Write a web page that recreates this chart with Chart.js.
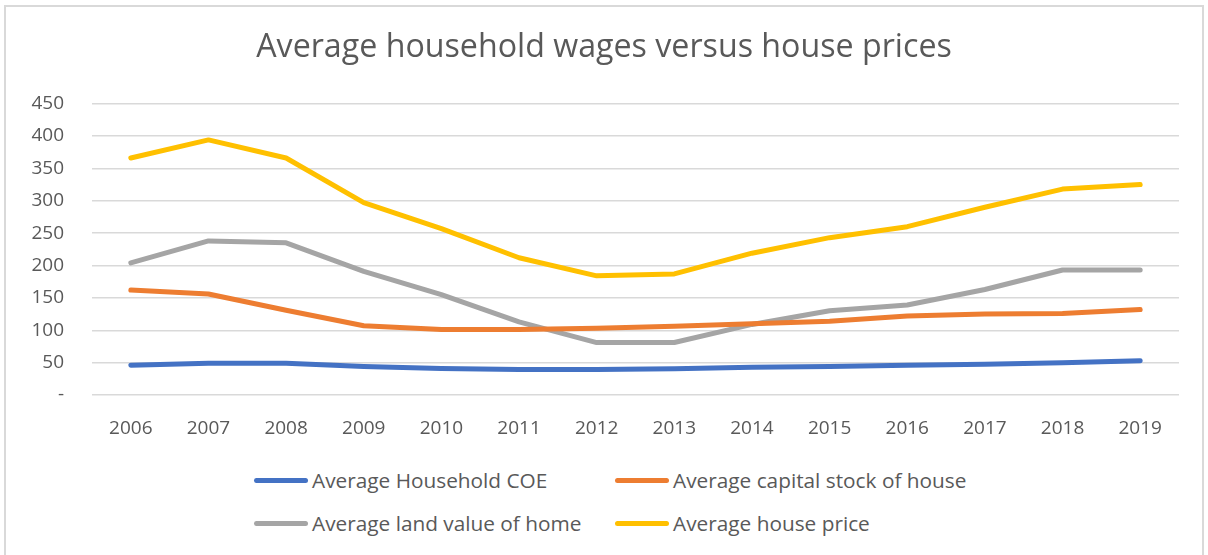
<!DOCTYPE html>
<html>
<head>
<meta charset="utf-8">
<script src="https://cdn.jsdelivr.net/npm/chart.js@4"></script>
<style>
  html, body { margin: 0; padding: 0; background: #fff; }
  body { width: 1208px; height: 555px; position: relative; overflow: hidden; font-family: "Open Sans", sans-serif; }
  #frame { position: absolute; left: 4px; top: 5px; width: 1200px; height: 600px; border: 2px solid #d9d9d9; box-sizing: border-box; }
  #wrap { position: absolute; left: 0; top: 0; width: 1208px; height: 450px; }
  #legend { position: absolute; left: 0; top: 466px; width: 1208px; color: #595959; font-size: 20.8px; }
  .item { position: absolute; display: flex; align-items: center; white-space: nowrap; }
  .swatch { width: 54px; height: 5px; border-radius: 3px; margin-right: 4px; }
</style>
</head>
<body>
<div id="frame"></div>
<div id="wrap"><canvas id="c"></canvas></div>
<div id="legend"></div>
<script>
// data
const years = ['2006','2007','2008','2009','2010','2011','2012','2013','2014','2015','2016','2017','2018','2019'];
const householdCOE = [46, 49, 49, 44, 41, 39.5, 39.5, 40.5, 43, 44, 46, 47.5, 50, 53];
const capitalStock = [162, 156, 131, 107, 101, 101, 103, 106, 110, 114, 122, 125, 126, 132];
const landValue = [204, 238, 235, 191, 155, 113, 81, 81, 109, 130, 139, 163, 193, 193];
const housePrice = [366, 394, 366, 297, 257, 212, 184, 187, 219, 243, 260, 290, 318, 325];
const seriesNames = ['Average Household COE', 'Average capital stock of house', 'Average land value of home', 'Average house price'];
const seriesColors = ['#4472C4', '#ED7D31', '#A5A5A5', '#FFC000'];

const txt = '#595959';
const values = [householdCOE, capitalStock, landValue, housePrice];

const chart = new Chart(document.getElementById('c'), {
  type: 'line',
  data: {
    labels: years,
    datasets: values.map((v, i) => ({
      label: seriesNames[i],
      data: v,
      borderColor: seriesColors[i],
      backgroundColor: seriesColors[i],
      borderWidth: 5,
      borderCapStyle: 'round',
      borderJoinStyle: 'round',
      pointRadius: 0,
      tension: 0
    }))
  },
  options: {
    responsive: true,
    maintainAspectRatio: false,
    animation: false,
    layout: { padding: { left: 29, right: 29, top: 0, bottom: 0 } },
    plugins: {
      legend: { display: false },
      tooltip: { enabled: false },
      title: {
        display: true,
        text: 'Average household wages versus house prices',
        color: txt,
        font: { family: 'Open Sans', size: 32.2, weight: 'normal' },
        padding: { top: 29, bottom: 36 }
      }
    },
    scales: {
      x: {
        offset: true,
        grid: { display: false },
        border: { display: false },
        ticks: { color: txt, font: { family: 'Open Sans', size: 19 }, padding: 14, maxRotation: 0 },
        afterFit: s => { s.height = 55; }
      },
      y: {
        min: 0, max: 450,
        grid: { color: '#d9d9d9', lineWidth: 1.5, drawTicks: false },
        border: { display: false },
        ticks: {
          stepSize: 50, color: txt, padding: 28,
          font: { family: 'Open Sans', size: 19 },
          callback: v => v === 0 ? '-' : v
        },
        afterFit: s => { s.width = 63; }
      }
    }
  }
});

// legend in two columns like the original
const legend = document.getElementById('legend');
const cols = [254, 615];
const rows = [0, 43];
seriesNames.forEach((name, i) => {
  const el = document.createElement('div');
  el.className = 'item';
  el.style.left = cols[i % 2] + 'px';
  el.style.top = rows[Math.floor(i / 2)] + 'px';
  el.innerHTML = '<span class="swatch" style="background:' + seriesColors[i] + '"></span><span>' + name + '</span>';
  legend.appendChild(el);
});
</script>
</body>
</html>
